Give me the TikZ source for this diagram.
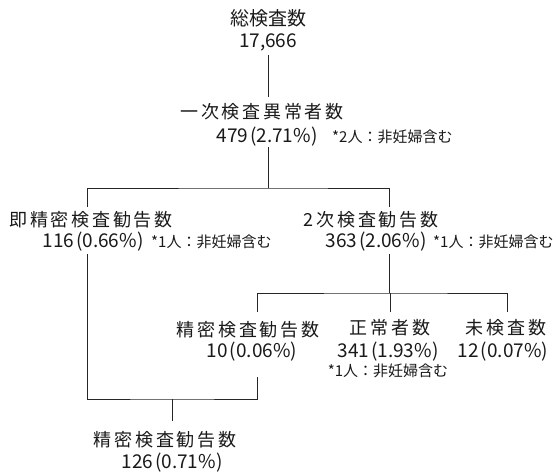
\documentclass[tikz,border=0pt]{standalone}
\usepackage{fontspec}
\setmainfont{Noto Sans CJK JP}
\newfontfamily\jpwide[LetterSpace=15]{Noto Sans CJK JP}
\newcommand{\pct}[2]{#1\kern2pt(#2\%)}
\begin{document}
\begin{tikzpicture}[x=1pt,y=-1pt,
  lab/.style={inner sep=0pt,font=\fontsize{18}{21}\jpwide,text=black!90},
  num/.style={inner sep=0pt,font=\fontsize{19}{22}\selectfont,text=black!90},
  note/.style={inner sep=0pt,font=\fontsize{15}{18}\selectfont,text=black!90},
  conn/.style={draw=black!85,line width=1pt}]
\useasboundingbox (0,0) rectangle (556,474);
% nodes
\node[num] (t1) at (268,18) {総検査数};
\node[num] (t2) at (268,42) {17,666};
\node[lab] (a1) at (262,112) {一次検査異常者数};
\node[num] (a2) at (267,137) {\pct{479}{2.71}};
\node[note,anchor=west] (an) at (332,137) {*2人：非妊婦含む};
\node[lab] (i1) at (91,220) {即精密検査勧告数};
\node[num] (i2) at (93,242) {\pct{116}{0.66}};
\node[note,anchor=west] (in) at (151,242) {*1人：非妊婦含む};
\node[lab] (s1) at (371,220) {2次検査勧告数};
\node[num] (s2) at (376,242) {\pct{363}{2.06}};
\node[note,anchor=west] (sn) at (433,242) {*1人：非妊婦含む};
\node[lab] (p1) at (248,330) {精密検査勧告数};
\node[num] (p2) at (252,352) {\pct{10}{0.06}};
\node[lab] (n1) at (390,328) {正常者数};
\node[num] (n2) at (388,352) {\pct{341}{1.93}};
\node[note] (nn) at (388,371) {*1人：非妊婦含む};
\node[lab] (u1) at (506,328) {未検査数};
\node[num] (u2) at (503,352) {\pct{12}{0.07}};
\node[lab] (f1) at (165,440) {精密検査勧告数};
\node[num] (f2) at (172,463) {\pct{126}{0.71}};
% junctions
\coordinate (j1) at (268,188);
\coordinate (j2) at (389,293);
\coordinate (j3) at (172,399);
% connectors
\draw[conn] (268,55) -- (268,97);
\draw[conn] (268,147) -- (j1);
\draw[conn] (87,207) |- (j1) -| (389,207);
\draw[conn] (389,254) -- (j2);
\draw[conn] (257,312) |- (j2) -| (507,312);
\draw[conn] (390,293) -- (390,312);
\draw[conn] (87,254) |- (j3) -| (257,377);
\draw[conn] (j3) -- (172,421);
\end{tikzpicture}
\end{document}
